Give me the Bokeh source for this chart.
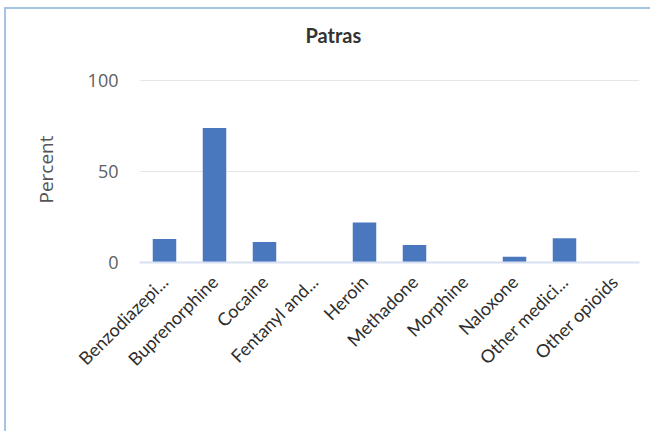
import math
from bokeh.plotting import figure
from bokeh.models import ColumnDataSource, FixedTicker, Range1d, FactorRange, Title
from bokeh.embed import file_html
from bokeh.resources import INLINE

categories = ["Benzodiazepi...", "Buprenorphine", "Cocaine", "Fentanyl and...", "Heroin",
              "Methadone", "Morphine", "Naloxone", "Other medici...", "Other opioids"]
percent = [12.9, 73.8, 11.3, 0.0, 22.0, 9.6, 0.0, 3.1, 13.3, 0.0]
y_ticks = [0, 50, 100]
title_text = "Patras"
y_label = "Percent"

source = ColumnDataSource(dict(cat=categories, val=percent))

p = figure(x_range=FactorRange(*categories, range_padding=0), y_range=Range1d(0, 102),
           width=646, height=424, output_backend="svg", toolbar_location=None,
           min_border_left=133, min_border_right=13, min_border_top=67, min_border_bottom=171)
p.margin = (7, 0, 0, 4)
p.styles = {"border-left": "2px solid #a6c3e3", "border-top": "2px solid #a6c3e3"}
p.outline_line_color = None
p.background_fill_color = "white"
p.border_fill_color = "white"

p.vbar(x="cat", top="val", width=0.47, source=source, fill_color="#4a78bf", line_color=None)

p.xgrid.grid_line_color = None
p.ygrid.grid_line_color = "#e6e6e6"
p.ygrid.grid_line_width = 1
p.yaxis.ticker = FixedTicker(ticks=y_ticks)
p.yaxis.axis_line_color = None
p.yaxis.major_tick_line_color = None
p.yaxis.minor_tick_line_color = None
p.yaxis.major_label_text_font = "Open Sans"
p.yaxis.major_label_text_font_size = "18px"
p.yaxis.major_label_text_color = "#606060"
p.yaxis.major_label_standoff = 15
p.yaxis.axis_label = y_label
p.yaxis.axis_label_text_font = "Open Sans"
p.yaxis.axis_label_text_font_size = "19px"
p.yaxis.axis_label_text_font_style = "normal"
p.yaxis.axis_label_text_color = "#555555"
p.yaxis.axis_label_standoff = 26

p.xaxis.axis_line_color = "#d6e0f2"
p.xaxis.axis_line_width = 2
p.xaxis.major_tick_line_color = None
p.xaxis.minor_tick_line_color = None
p.xaxis.major_label_orientation = math.pi / 4
p.xaxis.major_label_text_font = "Lato"
p.xaxis.major_label_text_font_size = "18px"
p.xaxis.major_label_text_color = "#2e2e2e"
p.xaxis.major_label_standoff = 10

# empty spacer between the frame and the title
p.add_layout(Title(text=" ", text_font_size="10px", standoff=12), "above")

p.title.text = title_text
p.title.align = "left"
p.title.offset = 166
p.title.standoff = 10
p.title.text_font = "Lato"
p.title.text_font_style = "bold"
p.title.text_font_size = "20px"
p.title.text_color = "#333333"

open("out.html", "w").write(file_html(p, INLINE))
